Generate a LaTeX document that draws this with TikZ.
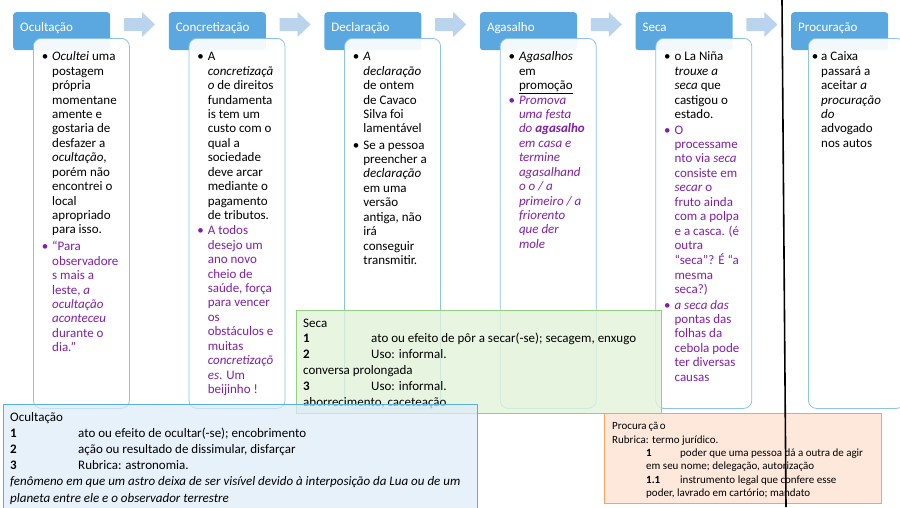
\documentclass[tikz,border=0pt]{standalone}
\usepackage{fontspec}
\setmainfont{Carlito}
\definecolor{hdrblue}{RGB}{91,168,224}
\definecolor{cbord}{RGB}{140,195,235}
\definecolor{arrowc}{RGB}{186,212,238}
\definecolor{purp}{RGB}{128,32,170}
\definecolor{gfill}{RGB}{226,243,218}
\definecolor{gbord}{RGB}{146,210,127}
\definecolor{bfill}{RGB}{221,235,248}
\definecolor{bbord}{RGB}{90,174,224}
\definecolor{ofill}{RGB}{253,228,213}
\definecolor{obord}{RGB}{246,163,92}
\newcommand\ml[1]{\begin{tabular}[t]{@{}l@{}}#1\end{tabular}}
\tikzset{
 hdr/.style={fill=hdrblue, rounded corners=3pt, minimum width=97pt, minimum height=38pt, inner sep=0pt, anchor=north west},
 cbox/.style={draw=cbord, line width=0.8pt, fill=white, fill opacity=0.92, rounded corners=8pt, minimum width=96pt, minimum height=370pt, inner sep=0pt, anchor=north west},
 htxt/.style={text=white, font=\fontsize{13}{15}\selectfont, inner sep=0pt, anchor=base west},
 itm/.style={font=\fontsize{13}{14.44}\selectfont, inner sep=0pt, anchor=base west},
 bul/.style={font=\fontsize{13}{14.44}\selectfont, inner sep=0pt, anchor=base},
 arr/.style={fill=arrowc},
 gbox/.style={draw=gbord, line width=0.8pt, fill=gfill, fill opacity=0.8, inner sep=0pt, anchor=north west, minimum width=365pt, minimum height=103pt},
 bbox/.style={draw=bbord, line width=0.8pt, fill=bfill, fill opacity=0.7, inner sep=0pt, anchor=north west, minimum width=474pt, minimum height=110pt},
 obox/.style={draw=obord, line width=0.8pt, fill=ofill, fill opacity=0.85, inner sep=0pt, anchor=north west, minimum width=277pt, minimum height=90pt},
 dtxt/.style={font=\fontsize{13}{15.8}\selectfont, inner sep=0pt, anchor=base west},
 btxt/.style={font=\fontsize{13}{16.2}\selectfont, inner sep=0pt, anchor=base west},
 otxt/.style={font=\fontsize{11}{13.5}\selectfont, inner sep=0pt, anchor=base west},
}
\begin{document}
\begin{tikzpicture}[x=1pt,y=-1pt]
\useasboundingbox (0,0) rectangle (900,507);
\clip (0,0) rectangle (900,507);

% arrows
\foreach \dx in {0,155.6,311.2,466.8,622.4}{
 \fill[arr] ({124+\dx},18) -- ({142+\dx},18) -- ({142+\dx},12) -- ({155+\dx},24.5) -- ({142+\dx},37) -- ({142+\dx},31) -- ({124+\dx},31) -- cycle;
}

% headers
\node[hdr] (h1) at (13,12) {};
\node[hdr] (h2) at (168.6,12) {};
\node[hdr] (h3) at (324.2,12) {};
\node[hdr] (h4) at (479.8,12) {};
\node[hdr] (h5) at (635.4,12) {};
\node[hdr] (h6) at (791,12) {};
% content boxes
\node[cbox] (c1) at (33,38) {};
\node[cbox] (c2) at (188.6,38) {};
\node[cbox] (c3) at (344.2,38) {};
\node[cbox] (c4) at (499.8,38) {};
\node[cbox] (c5) at (655.4,38) {};
\node[cbox] (c6) at (808,38) {};
% header labels
\node[htxt] (t1) at (20,31) {Ocultação};
\node[htxt] (t2) at (175.6,31) {Concretização};
\node[htxt] (t3) at (331.2,31) {Declaração};
\node[htxt] (t4) at (486.8,31) {Agasalho};
\node[htxt] (t5) at (642.4,31) {Seca};
\node[htxt] (t6) at (798,31) {Procuração};

% column 1
\node[bul] (b11) at (45,60.7) {•};
\node[itm] (i11) at (52,60.7) {\ml{\textit{Ocultei} uma\\postagem\\própria\\momentane\\amente e\\gostaria de\\desfazer a\\\textit{ocultação},\\porém não\\encontrei o\\local\\apropriado\\para isso.}};
\node[bul,text=purp] (b12) at (45,250.7) {•};
\node[itm,text=purp] (i12) at (52,250.7) {\ml{“Para\\observadore\\s mais a\\leste, \textit{a}\\\textit{ocultação}\\\textit{aconteceu}\\durante o\\dia.”}};

% column 2
\node[bul] (b21) at (200.6,60.7) {•};
\node[itm] (i21) at (207.6,60.7) {\ml{A\\\textit{concretizaçã}\\\textit{o} de direitos\\fundamenta\\is tem um\\custo com o\\qual a\\sociedade\\deve arcar\\mediante o\\pagamento\\de tributos.}};
\node[bul,text=purp] (b22) at (200.6,234.7) {•};
\node[itm,text=purp] (i22) at (207.6,234.7) {\ml{A todos\\desejo um\\ano novo\\cheio de\\saúde, força\\para vencer\\os\\obstáculos e\\muitas\\\textit{concretizaçõ}\\\textit{es}. Um\\beijinho !}};

% column 3
\node[bul] (b31) at (356.2,60.7) {•};
\node[itm] (i31) at (363.2,60.7) {\ml{\textit{A}\\\textit{declaração}\\de ontem\\de Cavaco\\Silva foi\\lamentável}};
\node[bul] (b32) at (356.2,149) {•};
\node[itm] (i32) at (363.2,149) {\ml{Se a pessoa\\preencher a\\\textit{declaração}\\em uma\\versão\\antiga, não\\irá\\conseguir\\transmitir.}};

% column 4
\node[bul] (b41) at (511.8,60.7) {•};
\node[itm] (i41) at (518.8,60.7) {\ml{\textit{Agasalhos}\\em\\\underline{promoção}}};
\node[bul,text=purp] (b42) at (511.8,104) {•};
\node[itm,text=purp] (i42) at (518.8,104) {\ml{\textit{Promova}\\\textit{uma festa}\\\textit{do \textbf{agasalho}}\\\textit{em casa e}\\\textit{termine}\\\textit{agasalhand}\\\textit{o o / a}\\\textit{primeiro / a}\\\textit{friorento}\\\textit{que der}\\\textit{mole}}};

% column 5
\node[bul] (b51) at (667.4,60.7) {•};
\node[itm] (i51) at (674.4,60.7) {\ml{o La Niña\\\textit{trouxe a}\\\textit{seca} que\\castigou o\\estado.}};
\node[bul,text=purp] (b52) at (667.4,134) {•};
\node[itm,text=purp] (i52) at (674.4,134) {\ml{O\\processame\\nto via \textit{seca}\\consiste em\\\textit{secar} o\\fruto ainda\\com a polpa\\e a casca. (é\\outra\\“seca”? É “a\\mesma\\seca?)}};
\node[bul,text=purp] (b53) at (667.4,309) {•};
\node[itm,text=purp] (i53) at (674.4,309) {\ml{\textit{a seca das}\\pontas das\\folhas da\\cebola pode\\ter diversas\\causas}};

% column 6
\node[bul] (b61) at (815,60.7) {•};
\node[itm] (i61) at (821,60.7) {\ml{a Caixa\\passará a\\aceitar \textit{a}\\\textit{procuração}\\\textit{do}\\advogado\\nos autos}};

% green definition box
\node[gbox] (g) at (296,310) {};
\node[dtxt] (gt) at (303,327) {\ml{Seca\\\makebox[68pt][l]{\textbf{1}}ato ou efeito de pôr a secar(-se); secagem, enxugo\\\makebox[68pt][l]{\textbf{2}}Uso: informal.\\conversa prolongada\\\makebox[68pt][l]{\textbf{3}}Uso: informal.\\aborrecimento, caceteação}};

% blue definition box
\node[bbox] (bl) at (3,404) {};
\node[btxt] (bt) at (10,421) {\ml{Ocultação\\\makebox[68pt][l]{\textbf{1}}ato ou efeito de ocultar(-se); encobrimento\\\makebox[68pt][l]{\textbf{2}}ação ou resultado de dissimular, disfarçar\\\makebox[68pt][l]{\textbf{3}}Rubrica: astronomia.\\\textit{fenômeno em que um astro deixa de ser visível devido à interposição da Lua ou de um}\\\textit{planeta entre ele e o observador terrestre}}};

% orange definition box
\node[obox] (o) at (604,413) {};
\node[otxt] (ot1) at (612,429.5) {\ml{Procura\hspace{2pt}çã\hspace{1.5pt}o\\Rubrica: termo jurídico.}};
\node[otxt] (ot2) at (646,456) {\ml{\makebox[34pt][l]{\textbf{1}}poder que uma pessoa dá a outra de agir\\em seu nome; delegação, autorização\\\makebox[34pt][l]{\textbf{1.1}}instrumento legal que confere esse\\poder, lavrado em cartório; mandato}};

% vertical line
\coordinate (vt) at (782,0);
\coordinate (vb) at (786,507);
\draw[line width=1.6pt, black] (vt) -- (vb);
\end{tikzpicture}
\end{document}
